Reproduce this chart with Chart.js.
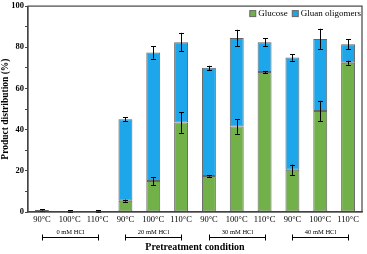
<!DOCTYPE html>
<html>
<head>
<meta charset="utf-8">
<script src="https://cdn.jsdelivr.net/npm/chart.js@4"></script>
<style>
  html, body { margin: 0; padding: 0; background: #fff; }
  #wrap { width: 367px; height: 254px; }
</style>
</head>
<body>
<div id="wrap"><canvas id="chart"></canvas></div>
<script>
// Chart data
const labels = ['90°C', '100°C', '110°C', '90°C', '100°C', '110°C', '90°C', '100°C', '110°C', '90°C', '100°C', '110°C'];
const groups = ['0 mM HCl', '20 mM HCl', '30 mM HCl', '40 mM HCl'];
const glucose = [0, 0, 0, 5.5, 15, 43.5, 17.5, 41.5, 68, 20.5, 49, 72.5];
const glucoseErr = [0, 0, 0, 0.5, 2, 5, 0.3, 3.5, 0.5, 2.5, 5, 1];
const total = [1, 0.5, 0.3, 45, 77.5, 82.5, 70, 84.5, 82.5, 75, 84, 81.5];
const totalErr = [0.3, 0.3, 0.5, 1, 3, 4.5, 1, 4, 2, 1.5, 5, 2.5];
const oligomers = total.map((t, i) => t - glucose[i]);

const serif = "'Liberation Serif', 'DejaVu Serif', serif";
const green = '#72b04a';
const blue = '#1ea6ea';
const edge = '#666666';

// Error bars, frame, legend and group brackets
const extras = {
    id: 'extras',
    afterDatasetsDraw(chart) {
        const ctx = chart.ctx;
        const x = chart.scales.x;
        const y = chart.scales.y;
        ctx.save();
        ctx.strokeStyle = '#000';
        ctx.lineWidth = 1;
        function errBar(i, v, e) {
            const px = Math.round(x.getPixelForValue(i)) + 0.5;
            const top = y.getPixelForValue(v + e);
            const bot = y.getPixelForValue(Math.max(v - e, 0));
            ctx.beginPath();
            ctx.moveTo(px, top); ctx.lineTo(px, bot);
            ctx.moveTo(px - 2.5, Math.round(top) + 0.5); ctx.lineTo(px + 2.5, Math.round(top) + 0.5);
            ctx.moveTo(px - 2.5, Math.round(bot) + 0.5); ctx.lineTo(px + 2.5, Math.round(bot) + 0.5);
            ctx.stroke();
        }
        labels.forEach((_, i) => {
            if (glucose[i] > 0) errBar(i, glucose[i], glucoseErr[i]);
            errBar(i, total[i], totalErr[i]);
        });
        ctx.restore();
    },
    afterDraw(chart) {
        const ctx = chart.ctx;
        const a = chart.chartArea;
        const x = chart.scales.x;
        ctx.save();
        ctx.strokeStyle = '#444';
        ctx.lineWidth = 1.2;
        ctx.strokeRect(a.left, a.top, a.right - a.left, a.bottom - a.top);

        // legend, top right inside the frame
        ctx.font = "9px " + serif;
        ctx.textBaseline = 'middle';
        ctx.textAlign = 'left';
        ctx.lineWidth = 1;
        ctx.strokeStyle = edge;
        const items = [['Glucose', green], ['Gluan oligomers', blue]];
        const widths = items.map(it => ctx.measureText(it[0]).width);
        const totalW = widths.reduce((s, w) => s + w + 13, 0) - 4;
        let lx = a.right - 1 - totalW;
        const ly = a.top + 7.5;
        items.forEach((it, k) => {
            ctx.fillStyle = it[1];
            ctx.fillRect(lx + 0.5, ly - 3, 6, 6);
            ctx.strokeRect(lx + 0.5, ly - 3, 6, 6);
            ctx.fillStyle = '#000';
            ctx.fillText(it[0], lx + 9, ly + 0.5);
            lx += widths[k] + 13;
        });

        // group labels with brackets
        ctx.strokeStyle = '#000';
        ctx.fillStyle = '#000';
        ctx.font = "6.5px " + serif;
        ctx.textAlign = 'center';
        const lineY = 237.5;
        groups.forEach((g, k) => {
            const x1 = Math.round(x.getPixelForValue(k * 3)) + 0.5;
            const x2 = Math.round(x.getPixelForValue(k * 3 + 2)) + 0.5;
            ctx.beginPath();
            ctx.moveTo(x1, lineY); ctx.lineTo(x2, lineY);
            ctx.moveTo(x1, lineY - 3); ctx.lineTo(x1, lineY + 3);
            ctx.moveTo(x2, lineY - 3); ctx.lineTo(x2, lineY + 3);
            ctx.stroke();
            ctx.fillText(g, (x1 + x2) / 2, 232);
        });
        ctx.restore();
    }
};

new Chart(document.getElementById('chart'), {
    type: 'bar',
    data: {
        labels: labels,
        datasets: [{
            label: 'Glucose',
            data: glucose,
            backgroundColor: green,
            borderColor: edge,
            borderWidth: 1,
            borderSkipped: false,
            barPercentage: 0.5,
            categoryPercentage: 1
        }, {
            label: 'Gluan oligomers',
            data: oligomers,
            backgroundColor: blue,
            borderColor: edge,
            borderWidth: 1,
            borderSkipped: false,
            barPercentage: 0.5,
            categoryPercentage: 1
        }]
    },
    options: {
        responsive: true,
        maintainAspectRatio: false,
        animation: false,
        layout: { padding: { top: 6, right: 5, left: 0, bottom: 0 } },
        plugins: {
            legend: { display: false },
            tooltip: { enabled: false }
        },
        scales: {
            x: {
                stacked: true,
                grid: { display: false, drawTicks: false, tickLength: 0 },
                border: { color: '#444', width: 1.2 },
                ticks: {
                    color: '#000',
                    padding: 3,
                    maxRotation: 0,
                    autoSkip: false,
                    font: { family: serif, size: 8.5 }
                },
                title: {
                    display: true,
                    text: 'Pretreatment condition',
                    color: '#000',
                    padding: { top: 0, bottom: 1 },
                    font: { family: serif, size: 10, weight: 'bold' }
                },
                afterFit(scale) { scale.height = 42; }
            },
            y: {
                stacked: true,
                min: 0,
                max: 100,
                grid: { drawOnChartArea: false, tickLength: 3, color: '#444' },
                border: { color: '#444', width: 1.2 },
                ticks: {
                    stepSize: 10,
                    padding: 1,
                    color: '#000',
                    font: { family: serif, size: 8.5, weight: 'bold' },
                    callback: v => (v % 20 === 0 ? v : '')
                },
                title: {
                    display: true,
                    text: 'Product distribution (%)',
                    color: '#000',
                    padding: { top: 0, bottom: 1 },
                    font: { family: serif, size: 9.5, weight: 'bold' }
                },
                afterFit(scale) { scale.width = 28; }
            }
        }
    },
    plugins: [extras]
});
</script>
</body>
</html>
